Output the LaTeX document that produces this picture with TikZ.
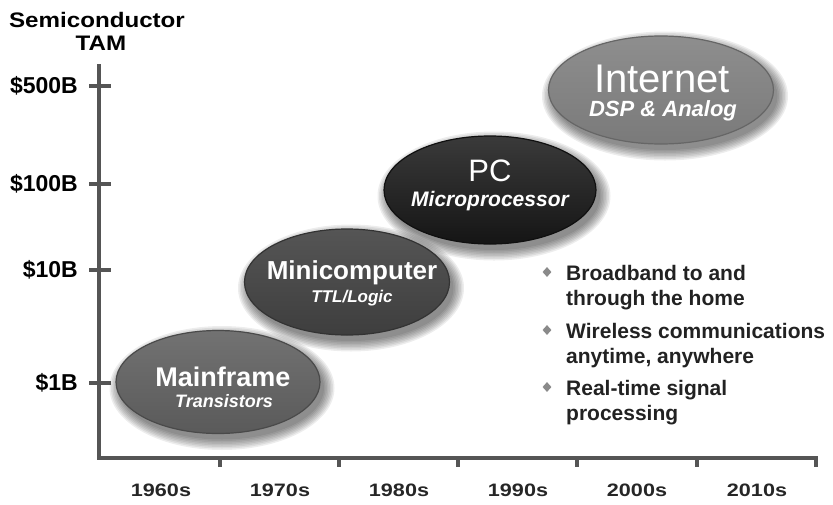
\documentclass[tikz,border=0pt]{standalone}
\usepackage{fontspec}
\setmainfont{Liberation Sans}
\newfontfamily\widefont[FakeStretch=1.15]{Liberation Sans}
\newfontfamily\yearfont[FakeStretch=1.2]{Liberation Sans}
\usetikzlibrary{shapes.geometric}
\definecolor{axisgray}{HTML}{555555}
\definecolor{bulletgray}{HTML}{8A8A8A}
\definecolor{txtdark}{HTML}{222222}
% ellipse colours
\definecolor{inetTop}{HTML}{8E8E8E}\definecolor{inetMid}{HTML}{B4B4B4}\definecolor{inetBot}{HTML}{7A7A7A}\definecolor{inetRim}{HTML}{666666}
\definecolor{pcTop}{HTML}{3A3A3A}\definecolor{pcMid}{HTML}{2C2C2C}\definecolor{pcBot}{HTML}{151515}\definecolor{pcRim}{HTML}{101010}
\definecolor{miniTop}{HTML}{555555}\definecolor{miniMid}{HTML}{747474}\definecolor{miniBot}{HTML}{3E3E3E}\definecolor{miniRim}{HTML}{333333}
\definecolor{mfTop}{HTML}{727272}\definecolor{mfMid}{HTML}{9C9C9C}\definecolor{mfBot}{HTML}{5A5A5A}\definecolor{mfRim}{HTML}{4A4A4A}
\begin{document}
\begin{tikzpicture}[x=1pt,y=-1pt,
  axisline/.style={line width=4pt, draw=axisgray},
  tickline/.style={line width=3.2pt, draw=axisgray},
  ylab/.style={anchor=east, inner sep=0, font=\bfseries\fontsize{23}{23}\selectfont, text=black},
  xlab/.style={inner sep=0, font=\yearfont\bfseries\fontsize{18}{18}\selectfont, text=black!85},
  ttl/.style={inner sep=0, font=\widefont\bfseries\fontsize{21}{21}\selectfont, text=black},
  blob/.style={ellipse, inner sep=0, line width=1.2pt},
  big/.style={inner sep=0, text=white},
  bul/.style={diamond, fill=bulletgray, inner sep=0, minimum width=9, minimum height=10},
  btxt/.style={anchor=base west, inner sep=0, font=\bfseries\fontsize{21}{25}\selectfont, text=txtdark},
]
\useasboundingbox (0,0) rectangle (833,504);

% title
\node[ttl] (t1) at (97,20) {Semiconductor};
\node[ttl] (t2) at (101,43) {TAM};

% axes
\coordinate (otop) at (99,64);
\coordinate (o) at (99,458);
\coordinate (xend) at (816,458);
\draw[axisline] (otop) -- (o) -- (xend);

% y ticks and labels
\foreach \yy/\lab/\nm in {86/{\$500B}/y500, 184/{\$100B}/y100, 270/{\$10B}/y10, 383/{\$1B}/y1}{
  \coordinate (\nm a) at (89,\yy);
  \coordinate (\nm b) at (111,\yy);
  \draw[tickline] (\nm a) -- (\nm b);
  \node[ylab] (\nm) at (78,\yy) {\lab};
}
% x ticks and labels
\foreach \xx in {220,339,458,577,697,816}{
  \coordinate (xa\xx) at (\xx,456);
  \coordinate (xb\xx) at (\xx,467);
  \draw[tickline] (xa\xx) -- (xb\xx);
}
\foreach \xx/\lab in {161/1960s,280/1970s,399/1980s,518/1990s,637/2000s,757/2010s}{
  \node[xlab] (d\lab) at (\xx,490) {\lab};
}

% ellipse shadows + ellipses (back to front)
\newcommand{\blobshadow}[4]{%
  \foreach \i in {0,...,7}{
    \fill[black, opacity=0.07] ({#1+4},{#2+6}) ellipse ({#3/2+\i*1.5} and {#4/2+\i*1.5});
  }}
% Internet
\blobshadow{661}{90}{225}{108}
\node[blob, minimum width=225, minimum height=108, draw=inetRim,
  top color=inetTop, middle color=inetMid, bottom color=inetBot] (inet) at (661,90) {};
\node[big, font=\fontsize{40}{40}\selectfont] (inetT) at (662,79) {Internet};
\node[big, font=\bfseries\itshape\fontsize{22}{22}\selectfont] (inetS) at (663,111) {DSP \& Analog};

% PC
\blobshadow{490}{190}{212}{108}
\node[blob, minimum width=212, minimum height=108, draw=pcRim,
  top color=pcTop, middle color=pcMid, bottom color=pcBot] (pc) at (490,190) {};
\node[big, font=\fontsize{31}{31}\selectfont] (pcT) at (490,171) {PC};
\node[big, font=\bfseries\itshape\fontsize{21}{21}\selectfont] (pcS) at (490,201) {Microprocessor};

% Minicomputer
\blobshadow{347}{282}{205}{106}
\node[blob, minimum width=205, minimum height=106, draw=miniRim,
  top color=miniTop, middle color=miniMid, bottom color=miniBot] (mini) at (347,282) {};
\node[big, font=\bfseries\fontsize{26}{26}\selectfont] (miniT) at (352,273) {Minicomputer};
\node[big, font=\bfseries\itshape\fontsize{17}{17}\selectfont] (miniS) at (352,298) {TTL/Logic};

% Mainframe
\blobshadow{218}{382}{204}{103}
\node[blob, minimum width=204, minimum height=103, draw=mfRim,
  top color=mfTop, middle color=mfMid, bottom color=mfBot] (mf) at (218,382) {};
\node[big, font=\bfseries\fontsize{27}{27}\selectfont] (mfT) at (223,377) {Mainframe};
\node[big, font=\bfseries\itshape\fontsize{18}{18}\selectfont] (mfS) at (224,401) {Transistors};

% bullets
\node[bul] (b1) at (547,272) {};
\node[bul] (b2) at (547,330) {};
\node[bul] (b3) at (547,387) {};
\node[btxt] (l1) at (566,280) {Broadband to and};
\node[btxt] (l2) at (566,305) {through the home};
\node[btxt] (l3) at (566,338) {Wireless communications};
\node[btxt] (l4) at (566,363) {anytime, anywhere};
\node[btxt] (l5) at (566,395) {Real-time signal};
\node[btxt] (l6) at (566,420) {processing};
\end{tikzpicture}
\end{document}
